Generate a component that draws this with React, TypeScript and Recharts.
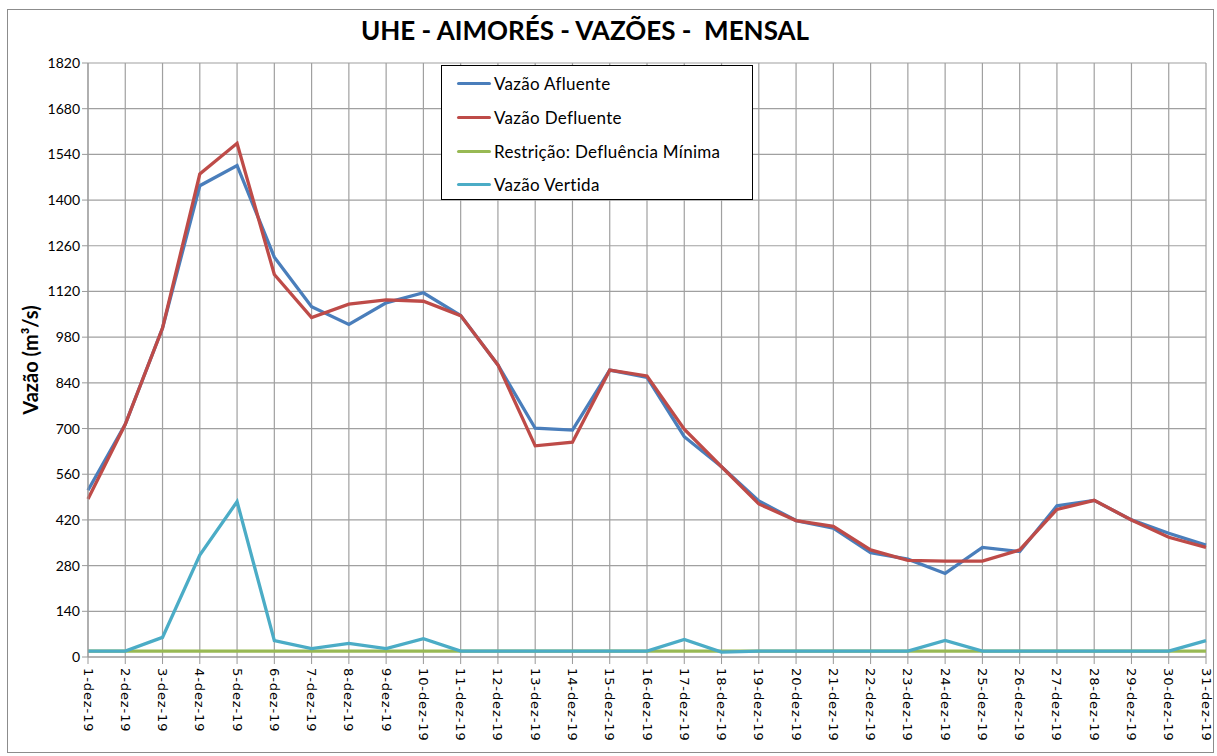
import { LineChart, Line, XAxis, YAxis, CartesianGrid } from 'recharts';

const days = [
  '1-dez-19', '2-dez-19', '3-dez-19', '4-dez-19', '5-dez-19', '6-dez-19', '7-dez-19', '8-dez-19',
  '9-dez-19', '10-dez-19', '11-dez-19', '12-dez-19', '13-dez-19', '14-dez-19', '15-dez-19', '16-dez-19',
  '17-dez-19', '18-dez-19', '19-dez-19', '20-dez-19', '21-dez-19', '22-dez-19', '23-dez-19', '24-dez-19',
  '25-dez-19', '26-dez-19', '27-dez-19', '28-dez-19', '29-dez-19', '30-dez-19', '31-dez-19',
];

const afluente = [
  511, 713, 1008, 1444, 1506, 1225, 1073, 1019, 1085, 1116, 1046, 895, 701, 695, 879, 857,
  675, 583, 478, 418, 395, 320, 300, 256, 336, 323, 463, 480, 420, 379, 343,
];

const defluente = [
  484, 713, 1008, 1480, 1574, 1172, 1040, 1081, 1094, 1090, 1046, 895, 647, 658, 879, 861,
  698, 583, 469, 418, 400, 328, 296, 294, 294, 328, 452, 480, 420, 367, 336,
];

const minima = [
  18, 18, 18, 18, 18, 18, 18, 18, 18, 18, 18, 18, 18, 18, 18, 18,
  18, 18, 18, 18, 18, 18, 18, 18, 18, 18, 18, 18, 18, 18, 18,
];

const vertida = [
  18, 18, 60, 312, 476, 50, 26, 42, 26, 56, 18, 18, 18, 18, 18, 18,
  54, 15, 18, 18, 18, 18, 18, 51, 18, 18, 18, 18, 18, 18, 50,
];

const yTicks = [0, 140, 280, 420, 560, 700, 840, 980, 1120, 1260, 1400, 1540, 1680, 1820];

const series = [
  { key: 'afluente', name: 'Vazão Afluente', color: '#4A7EBB' },
  { key: 'defluente', name: 'Vazão Defluente', color: '#BE4B48' },
  { key: 'minima', name: 'Restrição: Defluência Mínima', color: '#98B954' },
  { key: 'vertida', name: 'Vazão Vertida', color: '#4BACC6' },
];

const data = days.map((d, i) => ({
  day: d,
  afluente: afluente[i],
  defluente: defluente[i],
  minima: minima[i],
  vertida: vertida[i],
}));

const DayTick = (props: any) => {
  const { x, y, payload } = props;
  return (
    <text
      x={x}
      y={y}
      transform={`rotate(90, ${x}, ${y})`}
      textAnchor="start"
      dominantBaseline="central"
      fontFamily="DejaVu Sans"
      fontSize={13}
      letterSpacing={0.9}
      fill="#000"
    >
      {payload.value}
    </text>
  );
};

function LegendBox() {
  return (
    <div
      style={{
        position: 'absolute',
        left: 441,
        top: 65,
        width: 312,
        height: 135,
        border: '1px solid #000',
        background: '#fff',
        boxSizing: 'border-box',
        paddingTop: 1,
        fontFamily: 'Lato',
        fontSize: 17,
        color: '#000',
      }}
    >
      {series.map((s) => (
        <div key={s.key} style={{ display: 'flex', alignItems: 'center', height: 33.7 }}>
          <div style={{ width: 34, height: 3, background: s.color, marginLeft: 15, marginRight: 3, borderRadius: 2 }} />
          <span style={{ letterSpacing: 0.3 }}>{s.name}</span>
        </div>
      ))}
    </div>
  );
}

export default function App() {
  return (
    <div style={{ position: 'absolute', left: 0, top: 0, width: 1217, height: 756, background: '#fff' }}>
      <div
        style={{
          position: 'absolute',
          left: 7,
          top: 9,
          width: 1207,
          height: 744,
          border: '1px solid #8c8c8c',
          boxSizing: 'border-box',
        }}
      />
      <div
        style={{
          position: 'absolute',
          left: 0,
          width: 1170,
          top: 14,
          textAlign: 'center',
          fontFamily: 'Lato',
          fontWeight: 'bold',
          fontSize: 26,
          color: '#000',
        }}
      >
        UHE - AIMORÉS - VAZÕES -&nbsp;&nbsp;MENSAL
      </div>
      <div
        style={{
          position: 'absolute',
          left: 30,
          top: 360,
          transform: 'translate(-50%, -50%) rotate(-90deg)',
          fontFamily: 'Lato',
          fontWeight: 'bold',
          fontSize: 20,
          whiteSpace: 'nowrap',
          color: '#000',
        }}
      >
        Vazão (m³/s)
      </div>
      <div style={{ position: 'absolute', left: 0, top: 0 }}>
        <LineChart width={1217} height={756} data={data} margin={{ top: 63, right: 11, left: 0, bottom: 4 }}>
          <CartesianGrid stroke="#a0a0a0" strokeWidth={1.2} />
          <XAxis
            dataKey="day"
            interval={0}
            height={95}
            tick={<DayTick />}
            tickSize={7}
            stroke="#999"
            tickMargin={4}
          />
          <YAxis
            domain={[0, 1820]}
            ticks={yTicks}
            interval={0}
            width={88}
            tickSize={6}
            stroke="#999"
            tick={{ fill: '#000', fontFamily: 'Lato', fontSize: 14 }}
          />
          {series.map((s) => (
            <Line
              key={s.key}
              type="linear"
              dataKey={s.key}
              name={s.name}
              stroke={s.color}
              strokeWidth={3.3}
              dot={false}
              isAnimationActive={false}
            />
          ))}
        </LineChart>
      </div>
      <LegendBox />
    </div>
  );
}
